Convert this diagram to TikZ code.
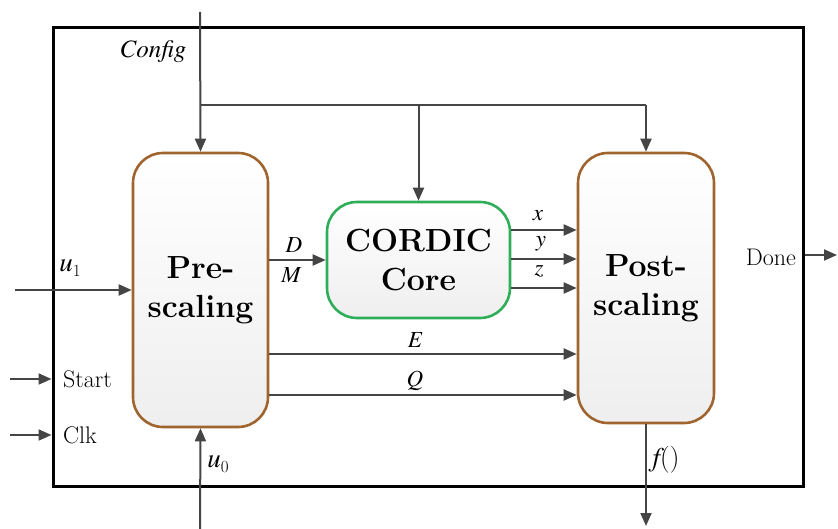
\documentclass[tikz,border=0pt]{standalone}
\usepackage{fontspec}
\newfontfamily\termes{texgyretermes}[
  Extension=.otf,
  UprightFont=*-regular,
  ItalicFont=*-italic]
\usetikzlibrary{arrows.meta,calc}
\definecolor{wire}{HTML}{454545}
\definecolor{brownedge}{HTML}{A0642E}
\definecolor{greenedge}{HTML}{2FAE5A}
\tikzset{
  blockbox/.style={draw=brownedge, line width=2.6pt, rounded corners=30pt,
    top color=white, bottom color=gray!13, align=center,
    font=\fontsize{32}{39}\selectfont\bfseries},
  corebox/.style={blockbox, draw=greenedge},
  sig/.style={draw=wire, line width=2pt, -{Triangle[length=13pt,width=11pt]}},
  wireline/.style={draw=wire, line width=2pt},
  lbl/.style={font=\fontsize{24}{28}\selectfont, inner sep=0pt},
  ilbl/.style={font=\fontsize{23}{26}\selectfont\termes\itshape, inner sep=0pt},
}
\newcommand{\subvar}[2]{{\termes\itshape #1}{\fontsize{17}{20}\selectfont\raisebox{-5pt}{#2}}}
\begin{document}
\begin{tikzpicture}[x=1pt,y=-1pt]
\useasboundingbox (0,0) rectangle (838,529);

% enclosing frame of the unit
\node[draw=black, line width=3pt, minimum width=750pt, minimum height=458pt,
  inner sep=0pt] (frame) at (428,257) {};

% functional blocks
\node[blockbox, minimum width=135pt, minimum height=274pt] (pre) at (200.5,290) {Pre-\\scaling};
\node[corebox, minimum width=183pt, minimum height=116pt] (core) at (418.5,260) {CORDIC\\Core};
\node[blockbox, minimum width=136pt, minimum height=270pt] (post) at (646,288) {Post-\\scaling};

% external terminals
\coordinate (cfgin) at (200,12);
\coordinate (cfgsplit) at (200,105);
\coordinate (u1in) at (15,290);
\coordinate (startin) at (10,379);
\coordinate (clkin) at (10,435);
\coordinate (u0in) at (200,529);
\coordinate (fout) at (646,526);
\coordinate (doneout) at (837,255);

% configuration bus
\draw[sig] (cfgin) -- (pre.north);
\draw[wireline] (cfgsplit) -- (cfgsplit -| post.north);
\draw[sig] (cfgsplit -| post.north) -- (post.north);
\draw[sig] (cfgsplit -| core.north) -- (core.north);
\node[lbl, font=\fontsize{25}{28}\selectfont\termes\itshape] (cfglbl) at (153,52) {Config};

% inputs
\draw[sig] (u1in) -- (pre.west);
\node[lbl, font=\fontsize{27}{30}\selectfont] (u1lbl) at (70,268) {\subvar{u}{1}};
\draw[sig] (startin) -- (startin -| frame.west);
\node[lbl, anchor=west] (startlbl) at (63,379) {Start};
\draw[sig] (clkin) -- (clkin -| frame.west);
\node[lbl, anchor=west] (clklbl) at (63,435) {Clk};
\draw[sig] (u0in) -- (pre.south);
\node[lbl, font=\fontsize{27}{30}\selectfont] (u0lbl) at (218,464) {\subvar{u}{0}};

% pre-scaling to core
\draw[sig] (pre.east |- 0,260) -- (core.west |- 0,260);
\node[ilbl] (dlbl) at (294,245) {D};
\node[ilbl] (mlbl) at (291,275) {M};

% core outputs
\draw[sig] (core.east |- 0,230) -- (post.west |- 0,230);
\draw[sig] (core.east |- 0,259) -- (post.west |- 0,259);
\draw[sig] (core.east |- 0,288) -- (post.west |- 0,288);
\node[ilbl] (xlbl) at (538,216) {x};
\node[ilbl] (ylbl) at (541,244) {y};
\node[ilbl] (zlbl) at (539,272) {z};

% bypass signals
\draw[sig] (pre.east |- 0,354) -- (post.west |- 0,354);
\draw[sig] (pre.east |- 0,395) -- (post.west |- 0,395);
\node[ilbl] (elbl) at (415,340) {E};
\node[ilbl] (qlbl) at (415,381) {Q};

% outputs
\draw[sig] (post.south) -- (fout);
\node[lbl, font=\fontsize{27}{30}\selectfont] (flbl) at (666,460) {{\termes\itshape f}()};
\draw[sig] (doneout -| frame.east) -- (doneout);
\node[lbl, anchor=east] (donelbl) at (796,257) {Done};
\end{tikzpicture}
\end{document}
